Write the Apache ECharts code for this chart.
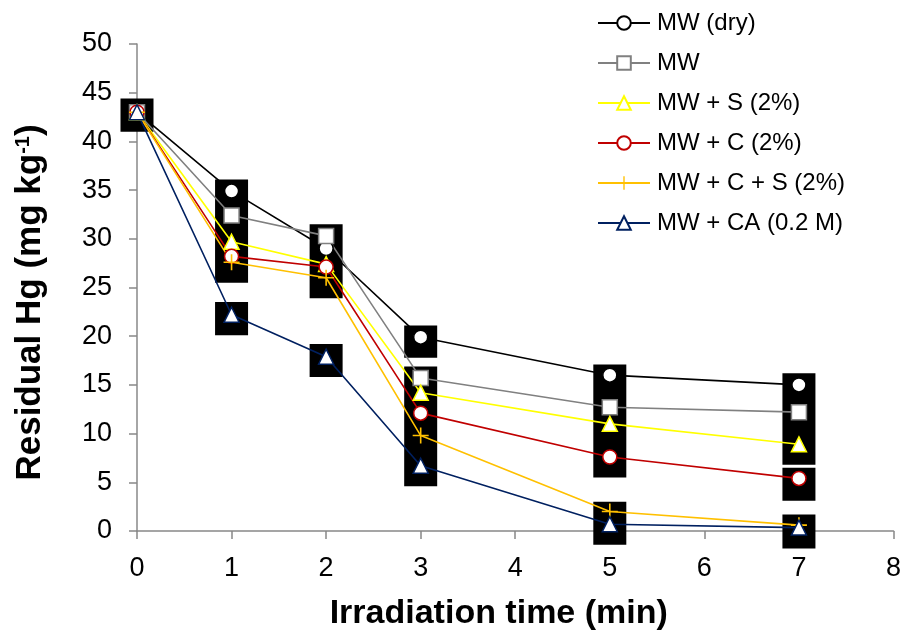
<!DOCTYPE html>
<html>
<head>
<meta charset="utf-8">
<script src="https://cdn.jsdelivr.net/npm/echarts@6/dist/echarts.min.js"></script>
<style>
  html, body { margin: 0; padding: 0; background: #fff; }
  #main { width: 904px; height: 637px; }
</style>
</head>
<body>
<div id="main"></div>
<script>
// irradiation times (min)
var timePoints = [0, 1, 2, 3, 5, 7];

// residual Hg for each treatment
var mwDry = [43, 34.9, 29.0, 19.9, 16.0, 15.0];
var mw    = [43, 32.4, 30.3, 15.7, 12.7, 12.2];
var mwS   = [43, 29.7, 27.4, 14.2, 11.0, 8.9];
var mwC   = [43, 28.2, 27.1, 12.1, 7.6, 5.4];
var mwCS  = [43, 27.6, 26.0, 9.8, 2.0, 0.6];
var mwCA  = [43, 22.2, 17.9, 6.7, 0.7, 0.35];

var seriesNames = ["MW (dry)", "MW", "MW + S (2%)", "MW + C (2%)", "MW + C + S (2%)", "MW + CA (0.2 M)"];

// black blocks behind the markers (x, top, bottom)
var boxX      = [0, 1, 1, 2, 2, 3, 3, 5, 5, 7, 7, 7];
var boxTop    = [44.4, 36.1, 23.5, 31.5, 19.2, 21.1, 16.9, 17.1, 3.0, 16.2, 6.5, 1.7];
var boxBottom = [41.0, 25.5, 20.1, 23.9, 15.8, 17.8, 4.6, 5.5, -1.4, 6.8, 3.1, -1.8];

var xTicks = [0, 8, 1];   // min, max, interval
var yTicks = [0, 50, 5];

function pairs(ys) {
  return timePoints.map(function (t, i) { return [t, ys[i]]; });
}

var plusPath = "path://M7.2,0H8.8V7.2H16V8.8H8.8V16H7.2V8.8H0V7.2H7.2Z";

function lineSeries(name, ys, color, symbol, size, fill) {
  return {
    name: name,
    type: "line",
    data: pairs(ys),
    symbol: symbol,
    symbolSize: size,
    z: 3,
    lineStyle: { color: color, width: 1.6 },
    itemStyle: fill
      ? { color: color, borderWidth: 0 }
      : { color: "#fff", borderColor: color, borderWidth: 1.5 },
    emphasis: { disabled: true }
  };
}

var font = "Liberation Sans, Arial, sans-serif";
var boxData = boxX.map(function (x, i) { return [x, boxTop[i], boxBottom[i]]; });

var myChart = echarts.init(document.getElementById("main"));

var option = {
  animation: false,
  textStyle: { fontFamily: font },
  grid: { left: 137, right: 9, top: 44, bottom: 106 },
  legend: {
    data: seriesNames,
    orient: "vertical",
    left: 597,
    top: 11,
    padding: 0,
    itemWidth: 52,
    itemHeight: 17,
    itemGap: 16,
    textStyle: { fontSize: 24, color: "#000", fontFamily: font, padding: [0, 0, 0, 2] }
  },
  xAxis: {
    type: "value",
    min: xTicks[0],
    max: xTicks[1],
    interval: xTicks[2],
    name: "Irradiation time (min)",
    nameLocation: "middle",
    nameGap: 66,
    nameTextStyle: { fontSize: 34, fontWeight: "bold", color: "#000", fontFamily: font, padding: [0, 33, 0, 0] },
    axisLine: { lineStyle: { color: "#888", width: 1.5 } },
    axisTick: { show: true, length: 8, lineStyle: { color: "#888", width: 1.5 } },
    axisLabel: { fontSize: 27, color: "#000", margin: 24, fontFamily: font },
    splitLine: { show: false }
  },
  yAxis: {
    type: "value",
    min: yTicks[0],
    max: yTicks[1],
    interval: yTicks[2],
    name: "Residual Hg (mg kg{sup|-1})",
    nameLocation: "middle",
    nameGap: 89,
    nameTextStyle: {
      fontSize: 35, fontWeight: "bold", color: "#000", fontFamily: font,
      padding: [0, 30, 0, 0],
      rich: {
        sup: { fontSize: 20, fontWeight: "bold", color: "#000", verticalAlign: "top", padding: [0, 0, 14, 0], fontFamily: font }
      }
    },
    axisLine: { show: true, lineStyle: { color: "#888", width: 1.5 } },
    axisTick: { show: true, length: 8, lineStyle: { color: "#888", width: 1.5 } },
    axisLabel: { fontSize: 27, color: "#000", margin: 25, fontFamily: font },
    splitLine: { show: false }
  },
  series: [
    {
      type: "custom",
      name: "blocks",
      z: 1,
      clip: false,
      silent: true,
      data: boxData,
      renderItem: function (params, api) {
        var top = api.coord([api.value(0), api.value(1)]);
        var bot = api.coord([api.value(0), api.value(2)]);
        return {
          type: "rect",
          shape: { x: top[0] - 16.5, y: top[1], width: 33, height: bot[1] - top[1] },
          style: { fill: "#000" }
        };
      }
    },
    lineSeries(seriesNames[0], mwDry, "#000000", "circle", 14),
    lineSeries(seriesNames[1], mw, "#808080", "rect", 15),
    lineSeries(seriesNames[2], mwS, "#FFFF00", "triangle", 15),
    lineSeries(seriesNames[3], mwC, "#C00000", "circle", 14),
    lineSeries(seriesNames[4], mwCS, "#FFC000", plusPath, 16, true),
    lineSeries(seriesNames[5], mwCA, "#002060", "triangle", 15)
  ]
};

myChart.setOption(option);
</script>
</body>
</html>
